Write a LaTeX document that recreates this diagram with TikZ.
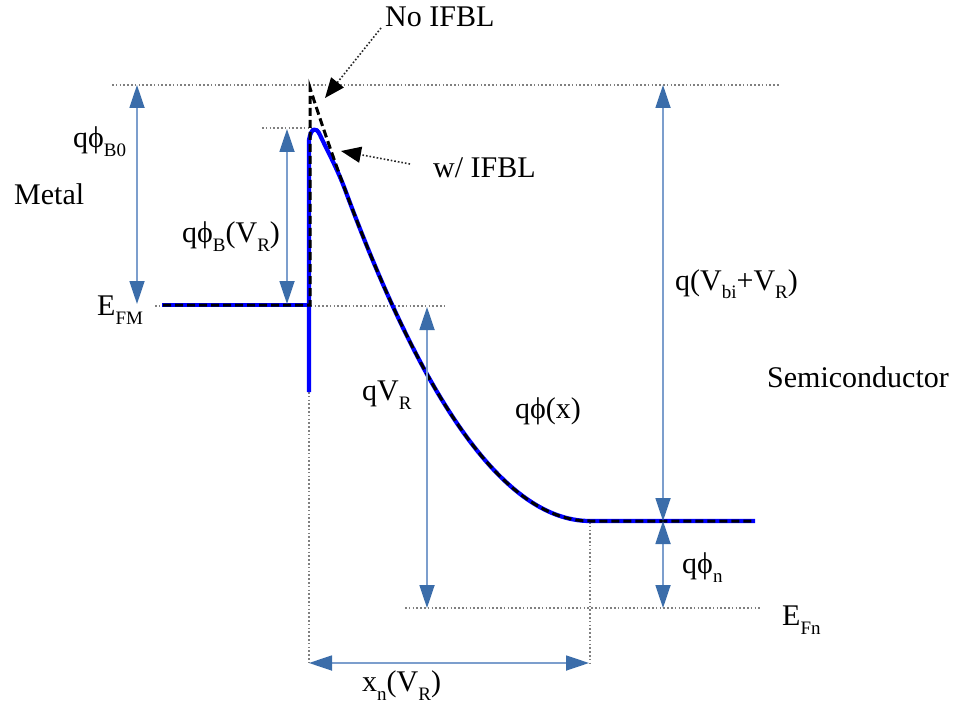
\documentclass[tikz,border=0pt]{standalone}
\usepackage{fontspec}
\setmainfont{Liberation Serif}
\usetikzlibrary{arrows.meta}
\definecolor{arrhead}{HTML}{3B6DAA}
\definecolor{arrshaft}{HTML}{7C9ECD}
\definecolor{bandblue}{HTML}{0000FF}
\definecolor{guidegray}{HTML}{808080}
\newcommand{\lowsub}[1]{\raisebox{-9pt}{\fontsize{19}{19}\selectfont #1}}
\newcommand{\phisym}{ϕ}
\tikzset{
  dimarrow/.style={draw=arrshaft, line width=1.8pt,
    {Triangle[width=15pt,length=23pt,color=arrhead]}-{Triangle[width=15pt,length=23pt,color=arrhead]}},
  guide/.style={draw=guidegray, line width=1.8pt, dash pattern=on 1.6pt off 2.2pt},
  pointer/.style={draw=black!85, line width=1.6pt, dash pattern=on 1.6pt off 2pt,
    -{Triangle[width=16pt,length=20pt,color=black]}},
  blueband/.style={draw=bandblue, line width=4.2pt, line join=round},
  blackband/.style={draw=black, line width=3pt, dash pattern=on 8pt off 4pt},
  lbl/.style={anchor=base west, inner sep=0pt, font=\fontsize{30}{34}\selectfont}
}
\begin{document}
\begin{tikzpicture}[x=1pt,y=-1pt]
\useasboundingbox (0,0) rectangle (971,711);
% key coordinates
\coordinate (topL) at (112,85);
\coordinate (topR) at (780,85);
\coordinate (pkL) at (262,128);
\coordinate (pkR) at (312,128);
\coordinate (efmL) at (155,306);
\coordinate (efmR) at (447,306);
\coordinate (efnL) at (405,608);
\coordinate (efnR) at (762,608);
\coordinate (ifTop) at (309,392);
\coordinate (ifBot) at (309,663);
\coordinate (edTop) at (590,522);
\coordinate (edBot) at (590,663);
% guide lines
\draw[guide] (topL) -- (topR);
\draw[guide] (pkL) -- (pkR);
\draw[guide] (efmL) -- (efmR);
\draw[guide] (efnL) -- (efnR);
\draw[guide] (ifTop) -- (ifBot);
\draw[guide] (edTop) -- (edBot);
% band: with IFBL (blue)
\draw[blueband] (162,305) -- (309,305);
\draw[blueband] (309,392) -- (309,140) .. controls (311,128) and (316,126) .. (320,135)
  .. controls (326,148) and (337,168) .. (345,189.5)
  -- plot[domain=345:590, samples=60] (\x, {521-433*((590-\x)/280)^2})
  -- (755,521);
% band: no IFBL (black dashed)
\draw[blackband] (163,305) -- (310,305) -- (310,88)
  -- plot[domain=310:590, samples=80] (\x, {521-433*((590-\x)/280)^2})
  -- (755,521);
% dimension arrows
\coordinate (a1t) at (137,85);   \coordinate (a1b) at (137,304);
\coordinate (a2t) at (287,129);  \coordinate (a2b) at (287,304);
\coordinate (a3t) at (427,307);  \coordinate (a3b) at (427,608);
\coordinate (a4t) at (663,85);   \coordinate (a4b) at (663,521);
\coordinate (a5t) at (663,521);  \coordinate (a5b) at (663,608);
\coordinate (a6l) at (309,663);  \coordinate (a6r) at (589,663);
\draw[dimarrow] (a1t) -- (a1b);
\draw[dimarrow] (a2t) -- (a2b);
\draw[dimarrow] (a3t) -- (a3b);
\draw[dimarrow] (a4t) -- (a4b);
\draw[dimarrow] (a5t) -- (a5b);
\draw[dimarrow] (a6l) -- (a6r);
% pointers
\coordinate (noS) at (381,28);  \coordinate (noT) at (325,98);
\coordinate (wS) at (410,164);  \coordinate (wT) at (341,151);
\draw[pointer] (noS) -- (noT);
\draw[pointer] (wS) -- (wT);
% labels
\node[lbl] (noifbl) at (385,27) {No IFBL};
\node[lbl] (wifbl) at (433,178) {w/ IFBL};
\node[lbl] (metal) at (14,205) {Metal};
\node[lbl] (phib0) at (73,148) {q\phisym\lowsub{B0}};
\node[lbl] (phibvr) at (182,243) {q\phisym\lowsub{B}(V\lowsub{R})};
\node[lbl] (efm) at (97,315) {E\lowsub{FM}};
\node[lbl] (vbi) at (675,290) {q(V\lowsub{bi}+V\lowsub{R})};
\node[lbl] (semi) at (767,387) {Semiconductor};
\node[lbl] (qvr) at (362,400) {qV\lowsub{R}};
\node[lbl] (phix) at (515,418) {q\phisym(x)};
\node[lbl] (phin) at (682,573) {q\phisym\lowsub{n}};
\node[lbl] (efn) at (782,625) {E\lowsub{Fn}};
\node[lbl] (xn) at (362,691) {x\lowsub{n}(V\lowsub{R})};
\end{tikzpicture}
\end{document}
